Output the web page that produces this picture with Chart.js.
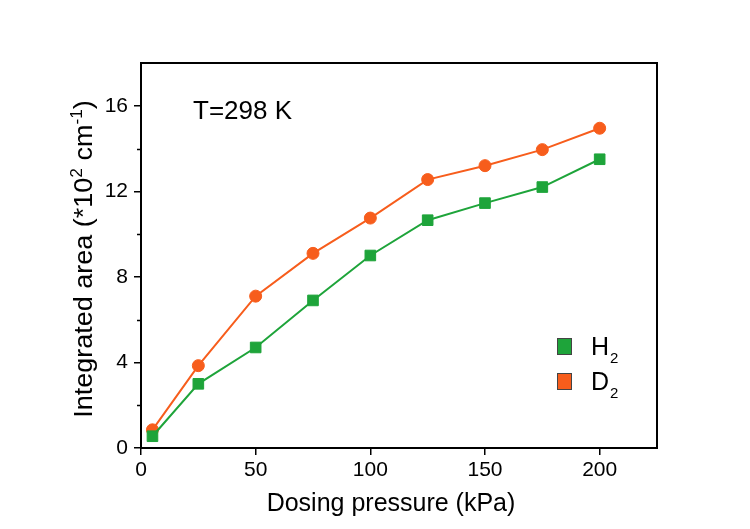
<!DOCTYPE html>
<html>
<head>
<meta charset="utf-8">
<script src="https://cdn.jsdelivr.net/npm/chart.js@4"></script>
<style>
html,body{margin:0;padding:0;background:#fff;}
canvas{display:block;}
</style>
</head>
<body>
<canvas id="c" width="750" height="529"></canvas>
<script>
const pressures = [5, 25, 50, 75, 100, 125, 150, 175, 200];
const h2Values = [0.55, 3.0, 4.7, 6.9, 9.0, 10.65, 11.45, 12.2, 13.5];
const d2Values = [0.85, 3.85, 7.1, 9.1, 10.75, 12.55, 13.2, 13.95, 14.95];
const xTicks = [0, 50, 100, 150, 200];
const yTicks = [0, 4, 8, 12, 16];
const yMinorTicks = [2, 6, 10, 14];
const seriesNames = ['H', 'D'];
const annotationText = 'T=298 K';
const xTitle = 'Dosing pressure (kPa)';

const GREEN = '#1ea43a';
const ORANGE = '#f75d1c';
const FONT = '"Liberation Sans", Arial, sans-serif';

const toPts = vals => pressures.map((p, i) => ({x: p, y: vals[i]}));

const decor = {
  id: 'decor',
  afterDraw(chart) {
    const ctx = chart.ctx;
    const a = chart.chartArea;
    const ys = chart.scales.y;
    ctx.save();
    ctx.strokeStyle = '#000';
    ctx.lineWidth = 2;
    ctx.strokeRect(a.left, a.top, a.right - a.left, a.bottom - a.top);
    ctx.lineWidth = 1.5;
    ctx.beginPath();
    yMinorTicks.forEach(v => {
      const y = Math.round(ys.getPixelForValue(v)) + 0.5;
      ctx.moveTo(a.left - 4, y);
      ctx.lineTo(a.left, y);
    });
    ctx.stroke();
    ctx.fillStyle = '#000';
    ctx.font = '26px ' + FONT;
    ctx.textAlign = 'left';
    ctx.textBaseline = 'alphabetic';
    ctx.fillText(annotationText, 193, 119);
    const legend = [[seriesNames[0], GREEN, 338], [seriesNames[1], ORANGE, 373]];
    legend.forEach(([name, col, top]) => {
      ctx.fillStyle = col;
      ctx.fillRect(557, top, 15, 17);
      ctx.strokeStyle = '#444';
      ctx.lineWidth = 1;
      ctx.strokeRect(557.5, top + 0.5, 14, 16);
      ctx.fillStyle = '#000';
      ctx.font = '25px ' + FONT;
      ctx.fillText(name, 591, top + 17);
      const w = ctx.measureText(name).width;
      ctx.font = '15px ' + FONT;
      ctx.fillText('2', 591 + w + 1, top + 25);
    });
    ctx.font = '25px ' + FONT;
    ctx.textAlign = 'center';
    ctx.fillText(xTitle, 391, 511);
    ctx.translate(92, 259);
    ctx.rotate(-Math.PI / 2);
    ctx.scale(1.08, 1);
    const parts = [
      ['Integrated area (*10', 25, 0],
      ['2', 16, -10],
      [' cm', 25, 0],
      ['-1', 16, -10],
      [')', 25, 0]
    ];
    let total = 0;
    parts.forEach(p => { ctx.font = p[1] + 'px ' + FONT; total += ctx.measureText(p[0]).width; });
    let x = -total / 2;
    ctx.textAlign = 'left';
    parts.forEach(p => {
      ctx.font = p[1] + 'px ' + FONT;
      ctx.fillText(p[0], x, p[2]);
      x += ctx.measureText(p[0]).width;
    });
    ctx.restore();
  }
};

new Chart(document.getElementById('c'), {
  type: 'line',
  data: {
    datasets: [
      {
        label: 'H2',
        data: toPts(h2Values),
        borderColor: GREEN,
        backgroundColor: GREEN,
        borderWidth: 2,
        pointStyle: 'rect',
        pointRadius: 7.5,
        pointBorderWidth: 1,
        pointBorderColor: GREEN,
        tension: 0
      },
      {
        label: 'D2',
        data: toPts(d2Values),
        borderColor: ORANGE,
        backgroundColor: ORANGE,
        borderWidth: 2,
        pointStyle: 'circle',
        pointRadius: 6,
        pointBorderWidth: 1,
        pointBorderColor: ORANGE,
        tension: 0
      }
    ]
  },
  options: {
    responsive: false,
    animation: false,
    events: [],
    layout: {padding: {left: 0, top: 63, right: 93, bottom: 0}},
    plugins: {legend: {display: false}, tooltip: {enabled: false}},
    scales: {
      x: {
        type: 'linear',
        min: 0, max: 225,
        afterFit: s => { s.height = 81; },
        afterBuildTicks: s => { s.ticks = xTicks.map(v => ({value: v})); },
        border: {display: true, color: '#000', width: 2},
        grid: {display: true, drawOnChartArea: false, drawTicks: true, tickLength: 7, color: '#000', lineWidth: 1.5},
        ticks: {color: '#000', font: {family: FONT, size: 21}, padding: 3, maxRotation: 0}
      },
      y: {
        type: 'linear',
        min: 0, max: 18,
        afterFit: s => { s.width = 141; },
        afterBuildTicks: s => { s.ticks = yTicks.map(v => ({value: v})); },
        border: {display: true, color: '#000', width: 2},
        grid: {display: true, drawOnChartArea: false, drawTicks: true, tickLength: 7, color: '#000', lineWidth: 1.5},
        ticks: {color: '#000', font: {family: FONT, size: 21}, padding: 6}
      }
    }
  },
  plugins: [decor]
});
</script>
</body>
</html>
